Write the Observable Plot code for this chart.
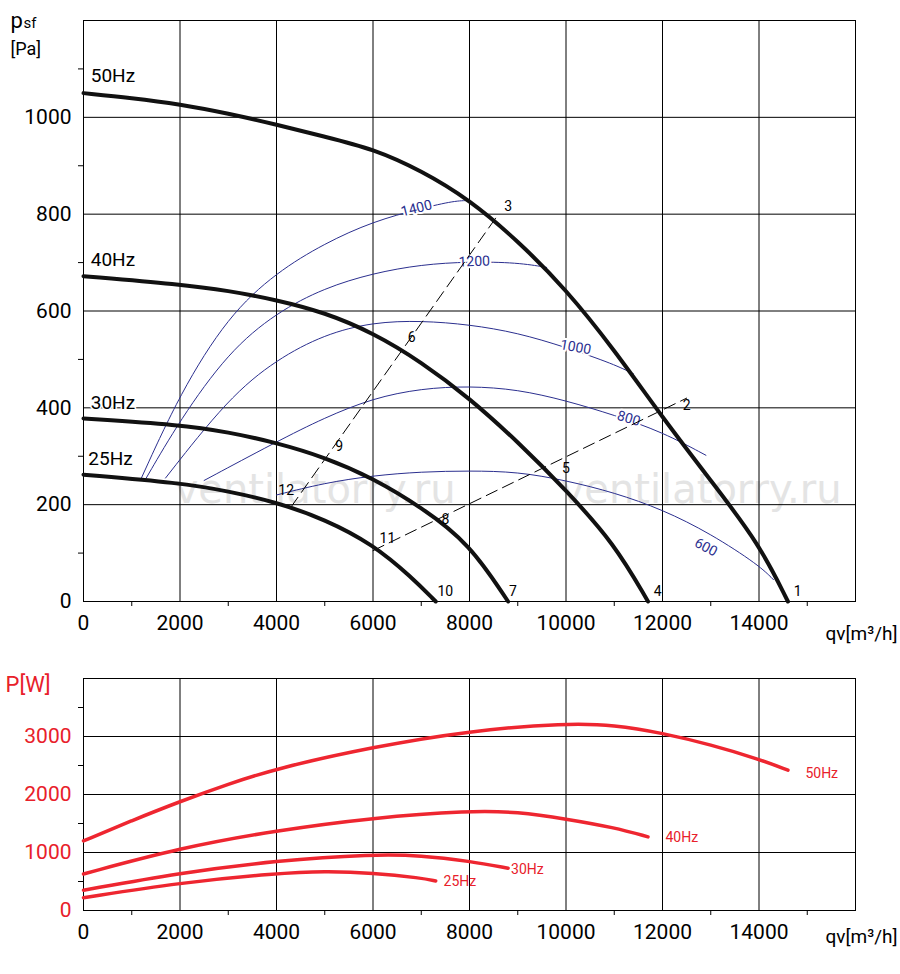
<!DOCTYPE html><html><head><meta charset="utf-8">
<script src="https://cdn.jsdelivr.net/npm/d3@7"></script>
<script src="https://cdn.jsdelivr.net/npm/@observablehq/plot@0.6"></script>
<style>body{margin:0;background:#fff;font-family:Roboto,sans-serif}svg{display:block}</style></head><body><div id="c"></div>
<script>
const hz50=[[0,1050],[1000,1040],[2000,1027],[3000,1008],[4000,985],[5000,960],[6000,935],[7000,890],[8000,830],[9000,745],[10000,645],[11000,520],[12000,380],[13000,250],[14000,120],[14600,0]];
const hz40=[[0,672],[2000,655],[3000,642],[4000,623],[5000,597],[6000,555],[7000,495],[8000,420],[9000,330],[10000,230],[11000,120],[11700,0]];
const hz30=[[0,378],[2000,365],[3000,350],[4000,328],[5000,298],[6000,255],[7000,195],[8000,120],[8800,0]];
const hz25=[[0,262],[2000,245],[3000,228],[4000,205],[5000,170],[6000,118],[6800,50],[7300,0]];
const eff={
 "1400":[[1200,255],[2000,430],[3000,590],[4000,680],[5000,740],[6000,785],[7000,812],[7700,828],[8000,828]],
 "1200":[[1300,255],[2000,375],[3000,515],[4000,597],[5000,648],[6000,678],[7000,696],[8000,702],[9000,700],[9600,690]],
 "1000":[[1700,255],[3000,420],[4000,500],[5000,552],[6000,577],[7000,580],[8000,572],[9000,555],[10000,525],[11000,490],[11400,470]],
 "800":[[2500,250],[4000,330],[5000,380],[6000,420],[7000,440],[8000,445],[9000,438],[10000,415],[11000,385],[12000,350],[12900,302]],
 "600":[[4000,220],[5000,245],[6000,260],[7000,268],[8000,270],[9000,268],[10000,250],[11000,225],[12000,190],[13000,140],[14000,75],[14300,45]]
};
const effLabels=[["1400",6900,812,-14],["1200",8100,702,-2],["1000",10200,525,10],["800",11300,378,16],["600",12900,112,28]];
const sys=[[[4300,195],[8600,800]],[[6000,105],[12500,420]]];
const pointLabels=[["1",14800,20],["2",12500,405],["3",8800,815],["4",11900,20],["5",10000,275],["6",6800,545],["7",8900,20],["8",7500,170],["9",5300,320],["10",7500,20],["11",6300,130],["12",4200,230]];
const hzLabels=[["50Hz",150,1085],["40Hz",150,705],["30Hz",150,410],["25Hz",100,295]];
const p50=[[0,1200],[1000,1550],[2000,1880],[3000,2180],[4000,2450],[6000,2820],[8000,3100],[10000,3230],[11000,3200],[12000,3060],[13000,2860],[14000,2610],[14600,2420]];
const p40=[[0,630],[2000,1080],[4000,1380],[6000,1600],[8000,1720],[9000,1700],[10000,1580],[11000,1430],[11700,1270]];
const p30=[[0,350],[2000,650],[4000,860],[6000,970],[7000,950],[8000,850],[8800,730]];
const p25=[[0,220],[2000,480],[4000,640],[5000,680],[6000,650],[7000,560],[7300,510]];
const pLabels=[["50Hz",15300,2370],["40Hz",12400,1250],["30Hz",9200,700],["25Hz",7800,500]];
const xt=d3.range(0,16000,2000);
const fmt=d3.format("d");
const grid=(ys)=>[Plot.gridX(xt,{stroke:"#000",strokeOpacity:1,strokeWidth:1}),Plot.gridY(ys,{stroke:"#000",strokeOpacity:1,strokeWidth:1})];
const topChart=Plot.plot({width:900,height:650,marginTop:20,marginBottom:49,marginLeft:83,marginRight:45,
 x:{domain:[0,16000]},y:{domain:[0,1200]},style:{fontFamily:"Roboto",fontSize:"21px"},
 marks:[
  Plot.text(["ventilatorry.ru"],{x:4800,y:230,fill:"#e4e4e4",fontSize:40,fontFamily:"DejaVu Sans"}),
  Plot.text(["ventilatorry.ru"],{x:12800,y:230,fill:"#e4e4e4",fontSize:40,fontFamily:"DejaVu Sans"}),
  ...grid(d3.range(0,1201,200)),
  Plot.frame({stroke:"#000"}),
  Plot.axisX(xt,{tickSize:0,tickPadding:14,label:null,fontSize:21,tickFormat:fmt}),
  Plot.axisX(d3.range(1000,16000,2000),{text:null,tickSize:5,label:null}),
  Plot.axisY(d3.range(0,1001,200),{tickSize:0,tickPadding:12,label:null,fontSize:21,tickFormat:fmt}),
  Plot.axisY(d3.range(100,1200,200),{text:null,tickSize:5,label:null}),
  ...Object.values(eff).map(d=>Plot.line(d,{curve:"basis",stroke:"#2b2f8f",strokeWidth:1})),
  Plot.text(effLabels,{x:d=>d[1],y:d=>d[2],text:d=>d[0],rotate:d=>d[3],fill:"#2b2f8f",stroke:"#fff",strokeWidth:4,fontSize:14}),
  ...sys.map(d=>Plot.line(d,{stroke:"#000",strokeWidth:1,strokeDasharray:"12,6"})),
  ...[hz50,hz40,hz30,hz25].map(d=>Plot.line(d,{curve:"basis",stroke:"#111",strokeWidth:4})),
  Plot.text(pointLabels,{x:d=>d[1],y:d=>d[2],text:d=>d[0],fontSize:14,fill:"#000"}),
  Plot.text(hzLabels,{x:d=>d[1],y:d=>d[2],text:d=>d[0],textAnchor:"start",fontSize:19,fill:"#000",stroke:"#fff",strokeWidth:3}),
  Plot.text(["qv[m³/h]"],{frameAnchor:"bottom-right",dx:42,dy:38,fontSize:19,fill:"#000"}),
  Plot.text(["p"],{frameAnchor:"top-left",dx:-73,dy:-8,fontSize:22,fill:"#000",textAnchor:"start"}),
  Plot.text(["sf"],{frameAnchor:"top-left",dx:-60,dy:-3,fontSize:15,fill:"#000",textAnchor:"start"}),
  Plot.text(["[Pa]"],{frameAnchor:"top-left",dx:-73,dy:22,fontSize:18,fill:"#000",textAnchor:"start"})
 ]});
const botChart=Plot.plot({width:900,height:324,marginTop:28,marginBottom:64,marginLeft:83,marginRight:45,
 x:{domain:[0,16000]},y:{domain:[0,4000]},style:{fontFamily:"Roboto",fontSize:"21px"},
 marks:[
  ...grid(d3.range(0,4001,1000)),
  Plot.frame({stroke:"#000"}),
  Plot.axisX(xt,{tickSize:0,tickPadding:14,label:null,fontSize:21,tickFormat:fmt}),
  Plot.axisX(d3.range(1000,16000,2000),{text:null,tickSize:5,label:null}),
  Plot.axisY(d3.range(0,3001,1000),{tickSize:0,tickPadding:12,label:null,fontSize:21,fill:"#e8202a",tickFormat:fmt}),
  Plot.axisY(d3.range(500,4000,1000),{text:null,tickSize:5,label:null}),
  ...[p50,p40,p30,p25].map(d=>Plot.line(d,{curve:"basis",stroke:"#ee2630",strokeWidth:3.5})),
  Plot.text(pLabels,{x:d=>d[1],y:d=>d[2],text:d=>d[0],fill:"#e8202a",fontSize:14}),
  Plot.text(["qv[m³/h]"],{frameAnchor:"bottom-right",dx:42,dy:32,fontSize:19,fill:"#000"}),
  Plot.text(["P[W]"],{frameAnchor:"top-left",dx:-78,dy:-2,fontSize:22,fill:"#e8202a",textAnchor:"start"})
 ]});
document.getElementById("c").append(topChart,botChart);
</script></body></html>
